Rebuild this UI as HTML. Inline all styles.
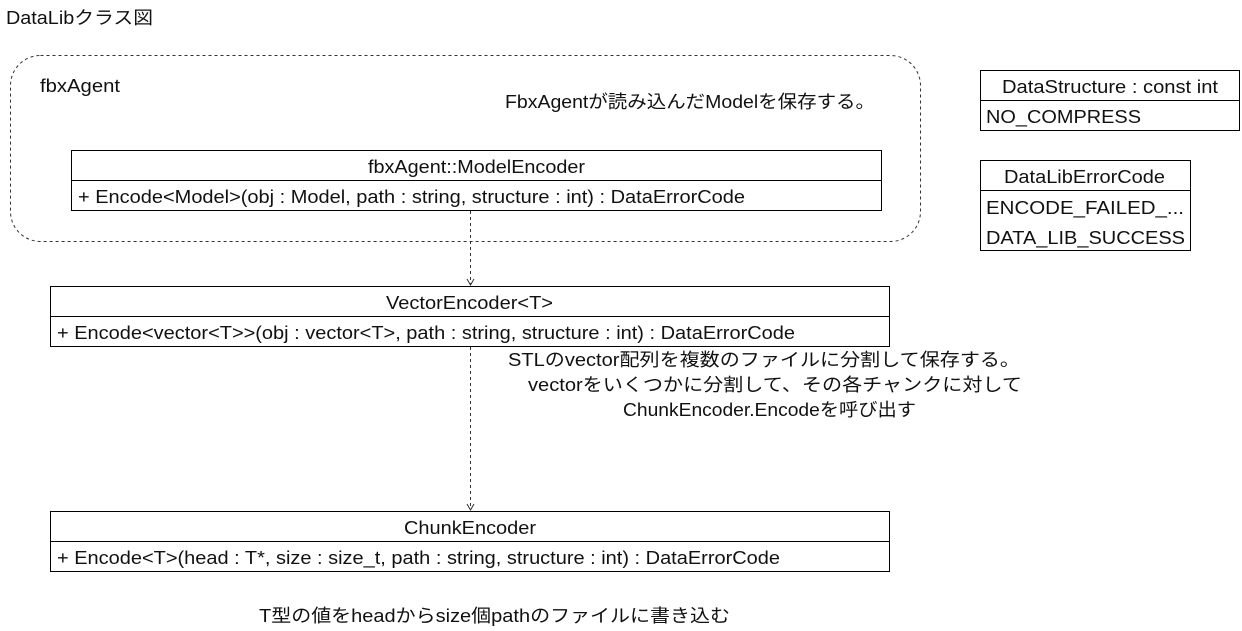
<!DOCTYPE html>
<html><head><meta charset="utf-8"><style>
html,body{margin:0;padding:0;background:#fff;}
svg{display:block;}
text{font-family:"Liberation Sans","Noto Sans CJK JP",sans-serif;font-size:18px;fill:#111;}
</style></head><body>
<svg width="1242" height="631" viewBox="0 0 1242 631" xmlns="http://www.w3.org/2000/svg">
<text x="6" y="24" textLength="147" lengthAdjust="spacingAndGlyphs">DataLibクラス図</text>
<rect x="10.5" y="55.5" width="910" height="186" rx="30" fill="none" stroke="#333" stroke-dasharray="3,3"/>
<text x="40" y="92" textLength="80" lengthAdjust="spacingAndGlyphs">fbxAgent</text>
<text x="505" y="108" textLength="370" lengthAdjust="spacingAndGlyphs">FbxAgentが読み込んだModelを保存する。</text>

<rect x="71.5" y="150.5" width="810" height="60" fill="#fff" stroke="#000"/>
<line x1="71.5" y1="180.5" x2="881.5" y2="180.5" stroke="#000"/>
<text x="368" y="173" textLength="217" lengthAdjust="spacingAndGlyphs">fbxAgent::ModelEncoder</text>
<text x="78" y="203" textLength="667" lengthAdjust="spacingAndGlyphs">+ Encode&lt;Model&gt;(obj : Model, path : string, structure : int) : DataErrorCode</text>

<line x1="470.5" y1="211" x2="470.5" y2="284" stroke="#333" stroke-dasharray="3,3"/>
<polyline points="467,279 470.5,285 474,279" fill="none" stroke="#333"/>

<rect x="50.5" y="286.5" width="839" height="60" fill="#fff" stroke="#000"/>
<line x1="50.5" y1="316.5" x2="889.5" y2="316.5" stroke="#000"/>
<text x="386" y="309" textLength="167" lengthAdjust="spacingAndGlyphs">VectorEncoder&lt;T&gt;</text>
<text x="57" y="339" textLength="738" lengthAdjust="spacingAndGlyphs">+ Encode&lt;vector&lt;T&gt;&gt;(obj : vector&lt;T&gt;, path : string, structure : int) : DataErrorCode</text>

<text x="508" y="366" textLength="512" lengthAdjust="spacingAndGlyphs">STLのvector配列を複数のファイルに分割して保存する。</text>
<text x="528" y="391" textLength="494" lengthAdjust="spacingAndGlyphs">vectorをいくつかに分割して、その各チャンクに対して</text>
<text x="623" y="416" textLength="293" lengthAdjust="spacingAndGlyphs">ChunkEncoder.Encodeを呼び出す</text>

<line x1="470.5" y1="347" x2="470.5" y2="509" stroke="#333" stroke-dasharray="3,3"/>
<polyline points="467,504 470.5,510 474,504" fill="none" stroke="#333"/>

<rect x="50.5" y="511.5" width="839" height="60" fill="#fff" stroke="#000"/>
<line x1="50.5" y1="541.5" x2="889.5" y2="541.5" stroke="#000"/>
<text x="404" y="534" textLength="132" lengthAdjust="spacingAndGlyphs">ChunkEncoder</text>
<text x="57" y="564" textLength="723" lengthAdjust="spacingAndGlyphs">+ Encode&lt;T&gt;(head : T*, size : size_t, path : string, structure : int) : DataErrorCode</text>

<text x="259" y="622" textLength="471" lengthAdjust="spacingAndGlyphs">T型の値をheadからsize個pathのファイルに書き込む</text>

<rect x="980.5" y="70.5" width="259" height="60" fill="#fff" stroke="#000"/>
<line x1="980.5" y1="100.5" x2="1239.5" y2="100.5" stroke="#000"/>
<text x="1002" y="93" textLength="216" lengthAdjust="spacingAndGlyphs">DataStructure : const int</text>
<text x="986" y="123" textLength="155" lengthAdjust="spacingAndGlyphs">NO_COMPRESS</text>

<rect x="980.5" y="160.5" width="210" height="90" fill="#fff" stroke="#000"/>
<line x1="980.5" y1="190.5" x2="1190.5" y2="190.5" stroke="#000"/>
<text x="1004" y="183" textLength="161" lengthAdjust="spacingAndGlyphs">DataLibErrorCode</text>
<text x="986" y="214" textLength="198" lengthAdjust="spacingAndGlyphs">ENCODE_FAILED_...</text>
<text x="986" y="244" textLength="199" lengthAdjust="spacingAndGlyphs">DATA_LIB_SUCCESS</text>
</svg>
</body></html>
